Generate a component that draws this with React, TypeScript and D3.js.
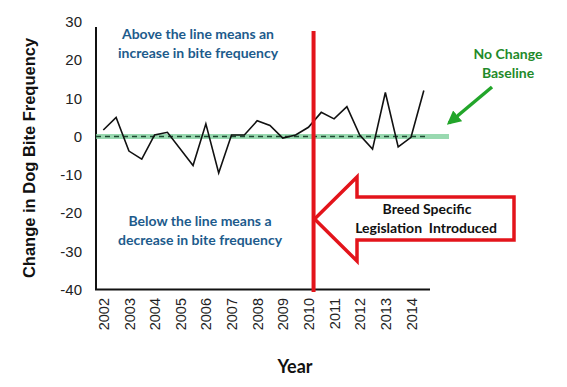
import React, { useEffect, useRef } from "react";
import * as d3 from "d3";

// half-yearly change values
const years = [2002, 2002.5, 2003, 2003.5, 2004, 2004.5, 2005.5, 2006, 2006.5, 2007, 2007.5, 2008, 2008.5, 2009, 2009.5, 2010, 2010.5, 2011, 2011.5, 2012, 2012.5, 2013, 2013.5, 2014, 2014.5];
const changes = [1.7, 5.0, -3.8, -5.9, 0.4, 1.1, -7.6, 3.3, -9.5, 0.4, 0.4, 4.1, 2.9, -0.4, 0.4, 2.4, 6.3, 4.6, 7.8, 0.4, -3.3, 11.5, -2.7, -0.2, 12.0];
const yTicks = [30, 20, 10, 0, -10, -20, -30, -40];
const yearTicks = [2002, 2003, 2004, 2005, 2006, 2007, 2008, 2009, 2010, 2011, 2012, 2013, 2014];
const lawYear = 2010.2;

const App = () => {
  const ref = useRef<SVGSVGElement>(null);

  useEffect(() => {
    const svg = d3.select(ref.current);
    svg.selectAll("*").remove();

    const x = d3.scaleLinear().domain([2002, 2014]).range([103.3, 411]);
    const y = d3.scaleLinear().domain([-40, 30]).range([289.7, 21.6]);
    const data = years.map((yr, i) => ({ x: yr, y: changes[i] }));

    // y tick labels (plain hyphen minus like the original)
    const yAxis = svg.append("g").attr("transform", "translate(82,0)")
      .call(d3.axisLeft(y).tickValues(yTicks).tickSize(0).tickPadding(0).tickFormat(d => String(d)));
    yAxis.select(".domain").remove();
    yAxis.selectAll("text").style("font-family", "Liberation Sans, Arial, sans-serif").style("font-size", "15px").attr("fill", "#222");

    // x tick labels, rotated
    const xAxis = svg.append("g").attr("transform", "translate(0,298)")
      .call(d3.axisBottom(x).tickValues(yearTicks).tickSize(0).tickFormat(d => String(d)));
    xAxis.select(".domain").remove();
    xAxis.selectAll("text")
      .attr("transform", "rotate(-90)")
      .attr("x", 0).attr("y", 0).attr("dy", "0.35em")
      .style("text-anchor", "end")
      .style("font-family", "Liberation Sans, Arial, sans-serif").style("font-size", "14.5px").attr("fill", "#222");

    // axis lines
    svg.append("path").attr("d", `M96,27V289.5H430`).attr("fill", "none").attr("stroke", "#111").attr("stroke-width", 2);

    // zero baseline
    svg.append("line").attr("x1", 96).attr("x2", 449).attr("y1", y(0)).attr("y2", y(0))
      .attr("stroke", "#7fcf9c").attr("stroke-opacity", 0.8).attr("stroke-width", 5);
    svg.append("line").attr("x1", 96).attr("x2", 425).attr("y1", y(0)).attr("y2", y(0))
      .attr("stroke", "#1c4a30").attr("stroke-width", 1.3).attr("stroke-dasharray", "5,4");

    // series line
    const line = d3.line<{ x: number; y: number }>().x(d => x(d.x)).y(d => y(d.y));
    svg.append("path").datum(data).attr("d", line).attr("fill", "none").attr("stroke", "#111").attr("stroke-width", 1.6);

    // legislation marker
    svg.append("line").attr("x1", x(lawYear)).attr("x2", x(lawYear)).attr("y1", 31).attr("y2", 292)
      .attr("stroke", "#e3141b").attr("stroke-width", 4);

    // big red arrow
    const tx = x(lawYear) + 1;
    svg.append("path")
      .attr("d", `M${tx},219 L357,177 L357,197 L514,197 L514,240 L357,240 L357,261 Z`)
      .attr("fill", "#fff").attr("stroke", "#e3141b").attr("stroke-width", 3.5).attr("stroke-linejoin", "miter");

    const bold = "Lato, 'Open Sans', sans-serif";
    const arrowText = svg.append("text").attr("text-anchor", "middle").style("font-family", bold).style("font-weight", "bold").style("font-size", "14px").attr("fill", "#111");
    arrowText.append("tspan").attr("x", 427).attr("y", 214).text("Breed Specific");
    arrowText.append("tspan").attr("x", 426).attr("y", 233).attr("xml:space", "preserve").text("Legislation  Introduced");

    // blue notes
    const note = (lines: string[], cx: number, y0: number) => {
      const t = svg.append("text").attr("text-anchor", "middle").style("font-family", bold).style("font-weight", "bold").style("font-size", "14px").attr("fill", "#1d5b8c");
      lines.forEach((s, i) => t.append("tspan").attr("x", cx).attr("y", y0 + i * 19).text(s));
    };
    note(["Above the line means an", "increase in bite frequency"], 198, 39);
    note(["Below the line means a", "decrease  in bite frequency"], 200, 226);

    // green baseline label and arrow
    const g = svg.append("text").attr("text-anchor", "middle").style("font-family", bold).style("font-weight", "bold").style("font-size", "14px").attr("fill", "#1f8a2a");
    g.append("tspan").attr("x", 508).attr("y", 59).text("No Change");
    g.append("tspan").attr("x", 508).attr("y", 78).text("Baseline");

    svg.append("defs").append("marker").attr("id", "gh").attr("viewBox", "0 0 10 10").attr("refX", 8).attr("refY", 5)
      .attr("markerWidth", 4).attr("markerHeight", 4).attr("orient", "auto")
      .append("path").attr("d", "M0,0L10,5L0,10Z").attr("fill", "#22a52a");
    svg.append("line").attr("x1", 492).attr("y1", 87).attr("x2", 449).attr("y2", 123)
      .attr("stroke", "#22a52a").attr("stroke-width", 3.5).attr("marker-end", "url(#gh)");

    // axis titles
    svg.append("text").attr("transform", "translate(35,158) rotate(-90)").attr("text-anchor", "middle")
      .style("font-family", "Liberation Sans, Arial, sans-serif").style("font-weight", "bold").style("font-size", "16.5px").attr("fill", "#111")
      .text("Change in Dog Bite Frequency");
    svg.append("text").attr("x", 295).attr("y", 373).attr("text-anchor", "middle")
      .style("font-family", bold).style("font-weight", "bold").style("font-size", "18px").attr("fill", "#111")
      .text("Year");
  }, []);

  return (
    <svg ref={ref} width={567} height={387} style={{ position: "absolute", left: 0, top: 0, background: "#fff" }} />
  );
};

export default App;
